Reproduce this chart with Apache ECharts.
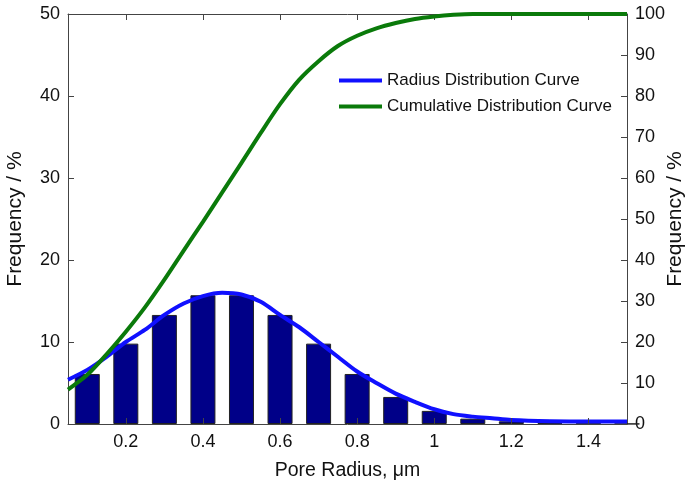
<!DOCTYPE html>
<html>
<head>
<meta charset="utf-8">
<script src="https://cdn.jsdelivr.net/npm/echarts@6/dist/echarts.min.js"></script>
<style>
html,body{margin:0;padding:0;background:#fff;}
#chart{width:686px;height:486px;}
</style>
</head>
<body>
<div id="chart"></div>
<script>
// Histogram bars (pore radius, frequency %)
var barX = [0.1, 0.2, 0.3, 0.4, 0.5, 0.6, 0.7, 0.8, 0.9, 1.0, 1.1, 1.2, 1.3, 1.4, 1.5];
var barY = [6.1, 9.8, 13.3, 15.7, 15.7, 13.3, 9.8, 6.1, 3.3, 1.6, 0.65, 0.33, 0.12, 0.05, 0.02];

// Radius distribution curve (left axis)
var radX = [0.05, 0.10, 0.15, 0.20, 0.25, 0.30, 0.35, 0.40, 0.45, 0.50, 0.55, 0.60, 0.65, 0.70, 0.75, 0.80, 0.85, 0.90, 0.95, 1.00, 1.05, 1.10, 1.15, 1.20, 1.30, 1.40, 1.50];
var radY = [5.4, 6.6, 8.2, 10.0, 11.5, 13.3, 14.7, 15.6, 16.0, 15.8, 14.9, 13.3, 11.8, 10.0, 8.2, 6.4, 5.0, 3.7, 2.7, 1.8, 1.2, 0.9, 0.7, 0.5, 0.35, 0.3, 0.3];

// Cumulative distribution curve (right axis)
var cumX = [0.05, 0.10, 0.15, 0.20, 0.25, 0.30, 0.35, 0.40, 0.45, 0.50, 0.55, 0.60, 0.65, 0.70, 0.75, 0.80, 0.85, 0.90, 0.95, 1.00, 1.05, 1.10, 1.20, 1.30, 1.40, 1.50];
var cumY = [8.4, 12, 17, 22.5, 28.5, 35.2, 42.3, 49.3, 56.5, 63.7, 71, 78, 84, 88.5, 92.2, 94.7, 96.5, 97.8, 98.8, 99.4, 99.8, 100, 100, 100, 100, 100];

var xTicks = [0.2, 0.4, 0.6, 0.8, 1.0, 1.2, 1.4];
var seriesNames = ['Radius Distribution Curve', 'Cumulative Distribution Curve'];

function pairs(xs, ys) { return xs.map(function (x, i) { return [x, ys[i]]; }); }

var FONT = 'Liberation Sans, Arial, sans-serif';
var AX = '#444';
var TICKFS = 18;
var chart = echarts.init(document.getElementById('chart'), null, {renderer: 'canvas'});
chart.setOption({
  animation: false,
  backgroundColor: '#fff',
  grid: {left: 68, right: 59, top: 14, bottom: 62, containLabel: false, outerBoundsMode: 'none'},
  legend: {
    data: seriesNames,
    orient: 'vertical',
    left: 339, top: 72, padding: 0,
    itemWidth: 43, itemHeight: 4, itemGap: 9,
    icon: 'rect',
    textStyle: {fontFamily: FONT, fontSize: 17, color: '#111'}
  },
  xAxis: [{
    type: 'value', min: 0.05, max: 1.5, position: 'bottom',
    name: 'Pore Radius, μm', nameLocation: 'middle', nameGap: 37, nameMoveOverlap: false,
    nameTextStyle: {fontFamily: FONT, fontSize: 19.5, color: '#111'},
    axisLine: {show: true, lineStyle: {color: AX, width: 1}},
    axisTick: {show: true, inside: true, length: 6, customValues: xTicks, lineStyle: {color: AX}},
    axisLabel: {customValues: xTicks, fontFamily: FONT, fontSize: TICKFS, color: '#111', margin: 9,
      formatter: function (v) { return String(Math.round(v * 10) / 10); }},
    splitLine: {show: false}, z: 5
  }, {
    type: 'value', min: 0.05, max: 1.5, position: 'top',
    axisLine: {show: true, onZero: false, lineStyle: {color: AX, width: 1}},
    axisTick: {show: true, inside: true, length: 6, customValues: xTicks, lineStyle: {color: AX}},
    axisLabel: {show: false},
    splitLine: {show: false}
  }],
  yAxis: [{
    type: 'value', min: 0, max: 50, interval: 10, position: 'left',
    name: 'Frequency / %', nameLocation: 'middle', nameGap: 42, nameRotate: 90, nameMoveOverlap: false,
    nameTextStyle: {fontFamily: FONT, fontSize: 21, color: '#111'},
    axisLine: {show: true, lineStyle: {color: AX, width: 1}},
    axisTick: {show: true, inside: true, length: 6, lineStyle: {color: AX}},
    axisLabel: {fontFamily: FONT, fontSize: TICKFS, color: '#111', margin: 8},
    splitLine: {show: false}
  }, {
    type: 'value', min: 0, max: 100, interval: 10, position: 'right',
    name: 'Frequency / %', nameLocation: 'middle', nameGap: 38, nameRotate: 90, nameMoveOverlap: false,
    nameTextStyle: {fontFamily: FONT, fontSize: 21, color: '#111'},
    axisLine: {show: true, lineStyle: {color: AX, width: 1}},
    axisTick: {show: true, inside: true, length: 6, lineStyle: {color: AX}},
    axisLabel: {fontFamily: FONT, fontSize: TICKFS, color: '#111', margin: 8},
    splitLine: {show: false}
  }],
  series: [{
    type: 'bar', name: 'Histogram', xAxisIndex: 0, yAxisIndex: 0,
    data: pairs(barX, barY), barWidth: 25, z: 1,
    itemStyle: {color: '#000088', borderColor: '#222', borderWidth: 1}
  }, {
    type: 'line', name: seriesNames[0], xAxisIndex: 0, yAxisIndex: 0,
    data: pairs(radX, radY), smooth: 0.3, showSymbol: false, z: 3,
    lineStyle: {color: '#1010ff', width: 4}, itemStyle: {color: '#1010ff'}
  }, {
    type: 'line', name: seriesNames[1], xAxisIndex: 0, yAxisIndex: 1,
    data: pairs(cumX, cumY), smooth: 0.3, showSymbol: false, z: 4,
    lineStyle: {color: '#0a7a0a', width: 4}, itemStyle: {color: '#0a7a0a'}
  }]
});
</script>
</body>
</html>
